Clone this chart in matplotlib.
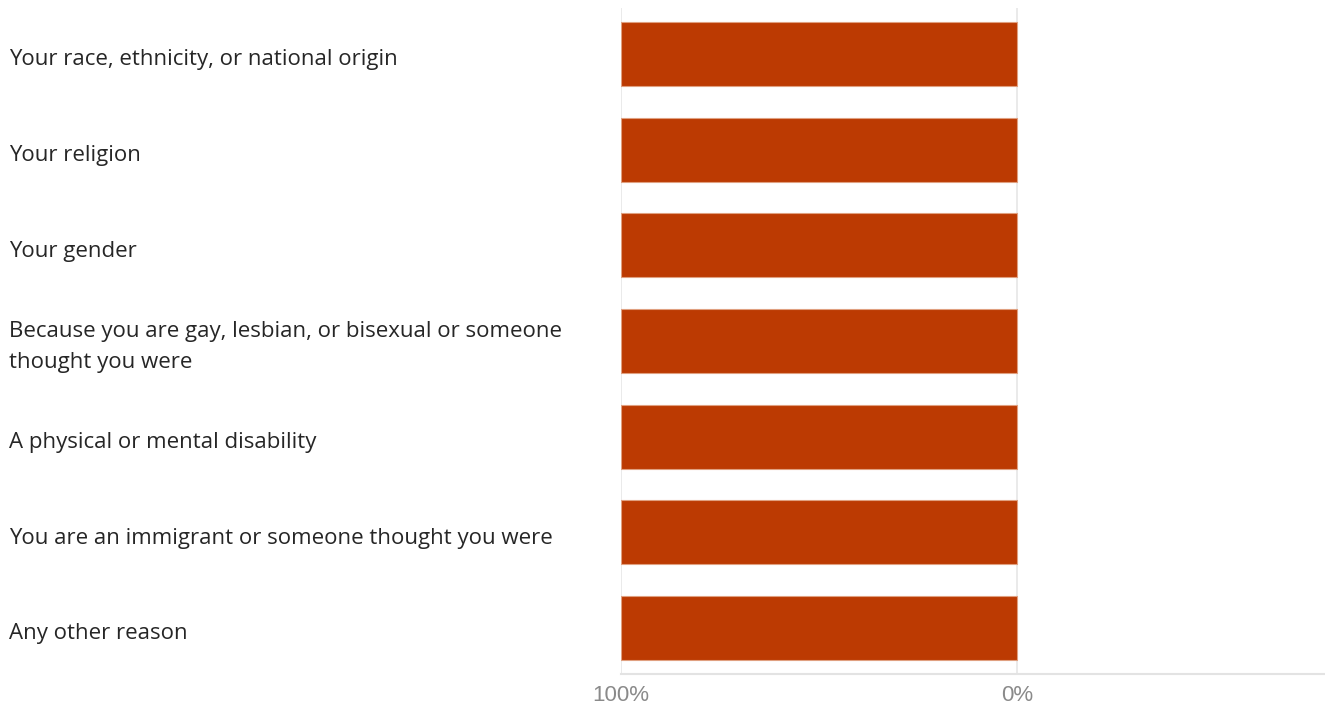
import matplotlib
matplotlib.use("Agg")
import matplotlib.pyplot as plt
import matplotlib.transforms as mtransforms

categories = [
    "Your race, ethnicity, or national origin",
    "Your religion",
    "Your gender",
    "Because you are gay, lesbian, or bisexual or someone\nthought you were",
    "A physical or mental disability",
    "You are an immigrant or someone thought you were",
    "Any other reason",
]
values = [100, 100, 100, 100, 100, 100, 100]
tick_vals = [100, 0]
tick_labels = ["100%", "0%"]

plt.rcParams['font.family'] = ['Open Sans', 'DejaVu Sans']

W, H = 1325, 707
fig = plt.figure(figsize=(W / 100, H / 100), dpi=100)
# axes: x from 621 px to 1325 px, y from 8 px to 674 px (top-origin)
ax = fig.add_axes([621 / W, 1 - 674 / H, (1325 - 621) / W, (674 - 8) / H])

pos = list(range(len(categories)))
ax.barh(pos, values, height=0.667, color='#bc3a02', edgecolor='#e0a080', linewidth=0.8, zorder=3)

ax.set_xlim(100, -77.8)
ax.set_ylim(len(categories) - 0.52, -0.48)

for v in tick_vals:
    ax.axvline(v, color='#e6e6e6', linewidth=1.2, zorder=1)

for s in ['top', 'right', 'left']:
    ax.spines[s].set_visible(False)
ax.spines['bottom'].set_color('#e3e3e3')
ax.spines['bottom'].set_linewidth(1.5)

ax.set_yticks([])
ax.set_xticks(tick_vals)
ax.set_xticklabels(tick_labels, fontsize=16, color='#8a8a8a',
                   family=['Liberation Sans', 'DejaVu Sans'])
ax.tick_params(axis='x', length=0, pad=8)

trans = mtransforms.blended_transform_factory(fig.transFigure, ax.transData)
for i, lab in enumerate(categories):
    ax.text(9 / W, i + 0.06, lab, transform=trans, ha='left', va='center',
            fontsize=16, color='#262626', linespacing=1.6)

fig.savefig("out.png", dpi=100)
